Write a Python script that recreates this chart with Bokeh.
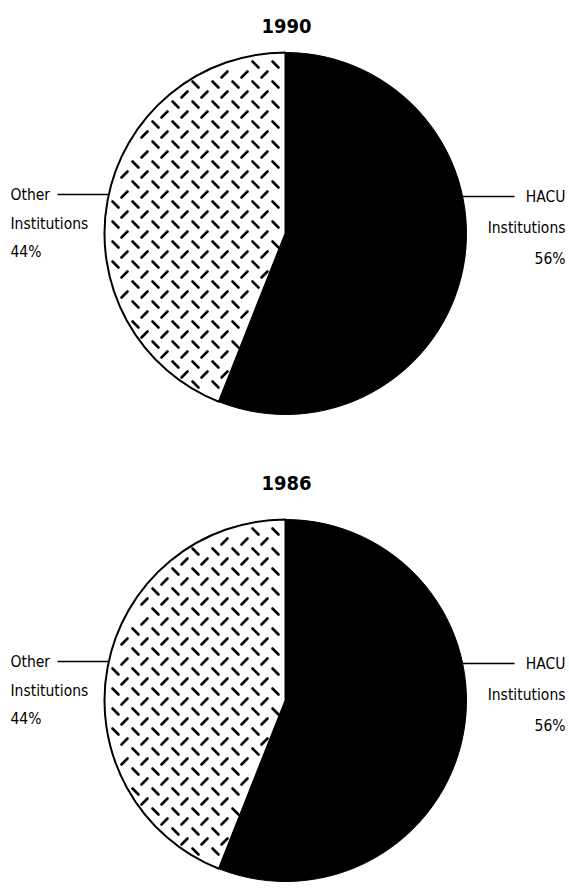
import numpy as np
from bokeh.plotting import figure
from bokeh.models import Range1d, ColumnDataSource
from bokeh.core.properties import value
from bokeh.embed import file_html
from bokeh.resources import INLINE

# Share of enrollment by institution type
years = ["1990", "1986"]
categories = ["HACU Institutions", "Other Institutions"]
hacu_pct = [56, 56]
other_pct = [44, 44]

W, H = 569, 895
FONT = value("'DejaVu Sans Condensed', 'Liberation Sans Narrow', sans-serif")

p = figure(width=W, height=H, output_backend="svg", toolbar_location=None,
           x_range=Range1d(0, W), y_range=Range1d(0, H),
           min_border=0, outline_line_color=None, background_fill_color="white")
p.axis.visible = False
p.grid.visible = False

# pie layout in page pixels (y measured from top of the page)
centers = [(285, 233), (285, 700)]
title_gap = [27, 37]
radius = 181
top = np.pi / 2

for year, h, o, (cx, cy_img), gap in zip(years, hacu_pct, other_pct, centers, title_gap):
    cy = H - cy_img
    total = h + o
    hacu_sweep = 2 * np.pi * h / total
    other_sweep = 2 * np.pi * o / total

    # hatched slice (white with outline), drawn anticlockwise from the top
    p.wedge(x=[cx], y=[cy], radius=radius, start_angle=top,
            end_angle=top + other_sweep, direction="anticlock",
            fill_color="white", line_color="black", line_width=2.0)

    # dashed diamond-plate texture inside the hatched slice
    xs0, ys0, xs1, ys1 = [], [], [], []
    a = 3.0
    row = 0
    for yy in np.arange(cy - radius, cy + radius + 10, 10.0):
        slope = 1 if row % 2 == 0 else -1
        off = 0 if row % 2 == 0 else 11
        for xx in np.arange(cx - radius - 20 + off, cx + 5, 20.0):
            pts = [(xx - a, yy - slope * a), (xx + a, yy + slope * a)]
            ok = True
            for px_, py_ in pts:
                dx, dy = px_ - cx, py_ - cy
                if np.hypot(dx, dy) > radius - 2.5:
                    ok = False
                    break
                ang = np.arctan2(dy, dx) % (2 * np.pi)
                if not (top + 0.01 <= ang <= top + other_sweep - 0.01):
                    ok = False
                    break
            if ok:
                xs0.append(pts[0][0]); ys0.append(pts[0][1])
                xs1.append(pts[1][0]); ys1.append(pts[1][1])
        row += 1
    p.segment(x0=xs0, y0=ys0, x1=xs1, y1=ys1, line_color="black",
              line_width=2.6, line_cap="round")

    # solid slice
    p.wedge(x=[cx], y=[cy], radius=radius, start_angle=top - hacu_sweep,
            end_angle=top, direction="anticlock",
            fill_color="black", line_color="black", line_width=1.0)

    # title
    p.text(x=[cx + 1], y=[cy + radius + gap], text=[year], text_align="center",
           text_baseline="middle", text_font=FONT, text_font_style="bold",
           text_font_size="20px", text_color="black")

    # leader lines
    ly = cy + 39
    left_edge = cx - np.sqrt(radius ** 2 - 39 ** 2)
    right_edge = cx + np.sqrt(radius ** 2 - 37 ** 2)
    p.segment(x0=[57], y0=[ly], x1=[left_edge], y1=[ly], line_color="black", line_width=1.4)
    p.segment(x0=[right_edge], y0=[ly - 2], x1=[514], y1=[ly - 2], line_color="black", line_width=1.4)

    # labels
    other_lines = ["Other", "Institutions", f"{o}%"]
    hacu_lines = ["HACU", "Institutions", f"{h}%"]
    base = cy + 39
    src_l = ColumnDataSource(dict(x=[10] * 3, y=[base, base - 29, base - 57], t=other_lines))
    src_r = ColumnDataSource(dict(x=[565] * 3, y=[base - 2, base - 33, base - 64], t=hacu_lines))
    p.text(x="x", y="y", text="t", source=src_l, text_align="left",
           text_baseline="middle", text_font=FONT, text_font_size="15.5px",
           text_color="black")
    p.text(x="x", y="y", text="t", source=src_r, text_align="right",
           text_baseline="middle", text_font=FONT, text_font_size="15.5px",
           text_color="black")

open("out.html", "w").write(file_html(p, INLINE))
